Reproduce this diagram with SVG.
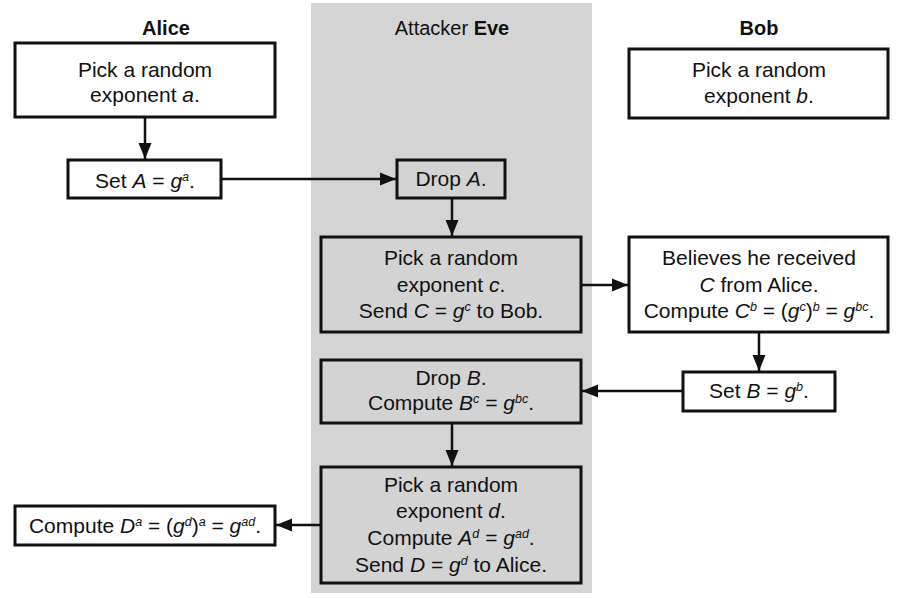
<svg xmlns="http://www.w3.org/2000/svg" width="904" height="598" viewBox="0 0 904 598">
<style>
text{font-family:"Liberation Sans",Arial,sans-serif;font-size:21px;fill:#111;text-anchor:middle}
.hdr{font-weight:bold;font-size:20px}
.i{font-style:italic}
.s{font-size:12.5px;font-style:italic}
.box{fill:#fff;stroke:#111;stroke-width:3}
.ebox{fill:#d3d3d3;stroke:#111;stroke-width:3}
.con{stroke:#111;stroke-width:2.5;fill:none;marker-end:url(#ah)}
</style>
<defs>
<marker id="ah" markerUnits="userSpaceOnUse" markerWidth="17" markerHeight="14" refX="16" refY="7" orient="auto">
<path d="M0,0.5 L16,7 L0,13.5 Z" fill="#111"/>
</marker>
</defs>
<rect x="311" y="3" width="281" height="590" fill="#d4d4d4"/>
<text class="hdr" x="166" y="35">Alice</text>
<text x="452" y="35" style="font-size:20px">Attacker <tspan font-weight="bold">Eve</tspan></text>
<text class="hdr" x="759" y="35">Bob</text>

<g id="connectors">
<line class="con" x1="145" y1="117" x2="145" y2="159"/>
<line class="con" x1="221" y1="179" x2="396" y2="179"/>
<line class="con" x1="452" y1="198" x2="452" y2="236"/>
<line class="con" x1="581" y1="285" x2="628" y2="285"/>
<line class="con" x1="759" y1="332" x2="759" y2="371"/>
<line class="con" x1="683" y1="391" x2="582" y2="391"/>
<line class="con" x1="452" y1="423" x2="452" y2="466"/>
<line class="con" x1="321" y1="525" x2="276" y2="525"/>
</g>

<g id="alice-pick">
<rect class="box" x="15" y="43" width="260" height="74"/>
<text x="145" y="77">Pick a random</text>
<text x="145" y="102">exponent <tspan class="i">a</tspan>.</text>
</g>
<g id="alice-set">
<rect class="box" x="68" y="160" width="153" height="38"/>
<text x="145" y="188">Set <tspan class="i">A</tspan> = <tspan class="i">g</tspan><tspan class="s" dy="-7">a</tspan><tspan dy="7">.</tspan></text>
</g>
<g id="bob-pick">
<rect class="box" x="629" y="49" width="259" height="69"/>
<text x="759" y="77">Pick a random</text>
<text x="759" y="103">exponent <tspan class="i">b</tspan>.</text>
</g>
<g id="eve-dropA">
<rect class="ebox" x="397" y="160" width="108" height="38"/>
<text x="451" y="186">Drop <tspan class="i">A</tspan>.</text>
</g>
<g id="eve-pickc">
<rect class="ebox" x="321" y="237" width="260" height="95"/>
<text x="451" y="265">Pick a random</text>
<text x="451" y="292">exponent <tspan class="i">c</tspan>.</text>
<text x="451" y="318">Send <tspan class="i">C</tspan> = <tspan class="i">g</tspan><tspan class="s" dy="-7">c</tspan><tspan dy="7"> to Bob.</tspan></text>
</g>
<g id="bob-believes">
<rect class="box" x="629" y="237" width="259" height="95"/>
<text x="759" y="265">Believes he received</text>
<text x="759" y="292"><tspan class="i">C</tspan> from Alice.</text>
<text x="759" y="318">Compute <tspan class="i">C</tspan><tspan class="s" dy="-7">b</tspan><tspan dy="7"> = (</tspan><tspan class="i">g</tspan><tspan class="s" dy="-7">c</tspan><tspan dy="7">)</tspan><tspan class="s" dy="-7">b</tspan><tspan dy="7"> = </tspan><tspan class="i">g</tspan><tspan class="s" dy="-7">bc</tspan><tspan dy="7">.</tspan></text>
</g>
<g id="bob-setB">
<rect class="box" x="683" y="372" width="152" height="39"/>
<text x="759" y="398">Set <tspan class="i">B</tspan> = <tspan class="i">g</tspan><tspan class="s" dy="-7">b</tspan><tspan dy="7">.</tspan></text>
</g>
<g id="eve-dropB">
<rect class="ebox" x="321" y="360" width="260" height="63"/>
<text x="451" y="385">Drop <tspan class="i">B</tspan>.</text>
<text x="451" y="410">Compute <tspan class="i">B</tspan><tspan class="s" dy="-7">c</tspan><tspan dy="7"> = </tspan><tspan class="i">g</tspan><tspan class="s" dy="-7">bc</tspan><tspan dy="7">.</tspan></text>
</g>
<g id="eve-pickd">
<rect class="ebox" x="321" y="467" width="260" height="116"/>
<text x="451" y="492">Pick a random</text>
<text x="451" y="518">exponent <tspan class="i">d</tspan>.</text>
<text x="451" y="545">Compute <tspan class="i">A</tspan><tspan class="s" dy="-7">d</tspan><tspan dy="7"> = </tspan><tspan class="i">g</tspan><tspan class="s" dy="-7">ad</tspan><tspan dy="7">.</tspan></text>
<text x="451" y="572">Send <tspan class="i">D</tspan> = <tspan class="i">g</tspan><tspan class="s" dy="-7">d</tspan><tspan dy="7"> to Alice.</tspan></text>
</g>
<g id="alice-compute">
<rect class="box" x="15" y="506" width="260" height="39"/>
<text x="145" y="533">Compute <tspan class="i">D</tspan><tspan class="s" dy="-7">a</tspan><tspan dy="7"> = (</tspan><tspan class="i">g</tspan><tspan class="s" dy="-7">d</tspan><tspan dy="7">)</tspan><tspan class="s" dy="-7">a</tspan><tspan dy="7"> = </tspan><tspan class="i">g</tspan><tspan class="s" dy="-7">ad</tspan><tspan dy="7">.</tspan></text>
</g>
</svg>
